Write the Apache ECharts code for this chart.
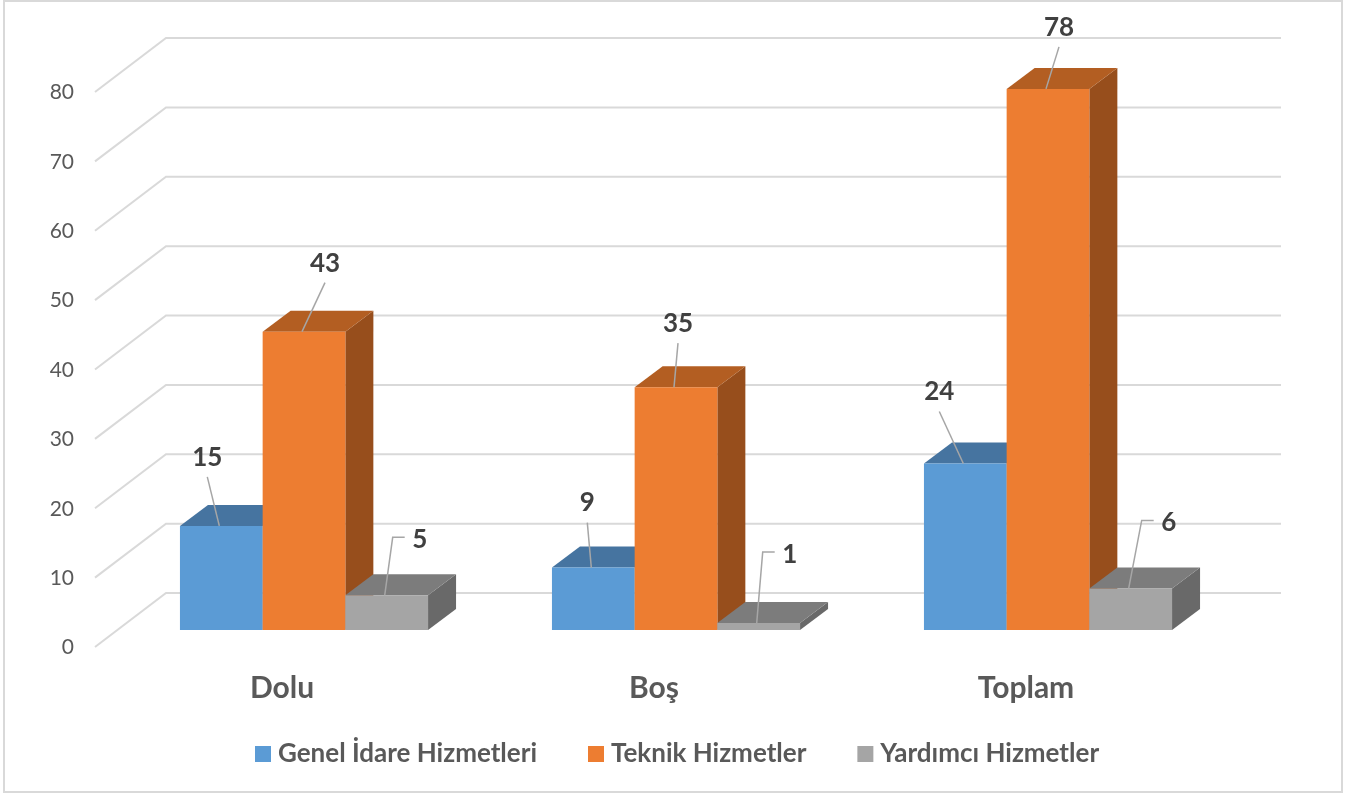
<!DOCTYPE html>
<html>
<head>
<meta charset="utf-8">
<title>Hizmetler</title>
<style>
  html, body { margin: 0; padding: 0; background: #fff; }
  #chart { width: 1359px; height: 794px; }
</style>
<script src="https://cdn.jsdelivr.net/npm/echarts@6/dist/echarts.min.js"></script>
</head>
<body>
<div id="chart"></div>
<script>
const categories = ["Dolu", "Boş", "Toplam"];
const yTicks = [0, 10, 20, 30, 40, 50, 60, 70, 80];
const genelIdare = [15, 9, 24];
const teknik = [43, 35, 78];
const yardimci = [5, 1, 6];

// renk: on yuz, ust yuz, yan yuz
const palette = [
  ["#5b9bd5", "#4674a0", "#41719c"],
  ["#ed7d31", "#b35e22", "#974e1c"],
  ["#a5a5a5", "#7c7c7c", "#696969"],
];
// etiket konumu, cubuk ust ortasina gore (dx, dy)
const labelOffsets = [
  [[-14, -70], [-6, -66], [-26, -73]],
  [[21, -70], [2, -65], [11, -63]],
  [[33, -57], [31, -70], [38, -67]],
];
const FONT = "Lato, 'Open Sans', sans-serif";
const DEPTH_X = 28;
const DEPTH_Y = 21;

function poly(points, fill) {
  return { type: "polygon", shape: { points }, style: { fill } };
}

function barSeries(name, values, idx) {
  return {
    name,
    type: "custom",
    silent: true,
    itemStyle: { color: palette[idx][0] },
    data: values.map((v, i) => [i, v]),
    renderItem: (params, api) => {
      const top = api.coord([api.value(0), api.value(1)]);
      const base = api.coord([api.value(0), 0]);
      const w = api.size([1, 0])[0] * 0.2223;
      const x0 = top[0] + (idx - 1.5) * w;
      const x1 = x0 + w;
      const cx = x0 + w / 2;
      const [front, upper, side] = palette[idx];
      const [dx, dy] = labelOffsets[idx][params.dataIndex];
      const startX = cx - 2;
      // gri serinin cizgisi kirik, digerleri duz
      const line = idx === 2
        ? [[startX, top[1]], [cx + dx - 27, top[1] + dy - 1], [cx + dx - 15, top[1] + dy - 1]]
        : [[startX, top[1]], [cx + dx, top[1] + dy + 21]];
      return {
        type: "group",
        children: [
          poly([[x1, base[1]], [x1 + DEPTH_X, base[1] - DEPTH_Y], [x1 + DEPTH_X, top[1] - DEPTH_Y], [x1, top[1]]], side),
          poly([[x0, top[1]], [x0 + DEPTH_X, top[1] - DEPTH_Y], [x1 + DEPTH_X, top[1] - DEPTH_Y], [x1, top[1]]], upper),
          { type: "rect", shape: { x: x0, y: top[1], width: w, height: base[1] - top[1] }, style: { fill: front } },
          { type: "polyline", shape: { points: line }, style: { stroke: "#a6a6a6", lineWidth: 1.5, fill: "none" } },
          {
            type: "text",
            x: cx + dx,
            y: top[1] + dy + 1.5,
            style: {
              text: String(api.value(1)),
              fill: "#404040",
              fontFamily: FONT,
              fontSize: 26,
              fontWeight: "bold",
              align: "center",
              verticalAlign: "middle",
            },
          },
        ],
      };
    },
  };
}

const myChart = echarts.init(document.getElementById("chart"));

myChart.setOption({
  animation: false,
  backgroundColor: "#fff",
  grid: { left: 118, right: 125, top: 75, bottom: 164, containLabel: false },
  graphic: [
    {
      type: "rect",
      silent: true,
      shape: { x: 4, y: 1, width: 1338, height: 791 },
      style: { fill: "none", stroke: "#d9d9d9", lineWidth: 2 },
    },
  ],
  legend: {
    data: ["Genel İdare Hizmetleri", "Teknik Hizmetler", "Yardımcı Hizmetler"],
    left: 255,
    top: 741,
    padding: 0,
    icon: "rect",
    itemWidth: 16,
    itemHeight: 16,
    itemGap: 51,
    selectedMode: false,
    textStyle: { color: "#595959", fontFamily: FONT, fontSize: 26, fontWeight: "bold", padding: [0, 0, 0, 2] },
  },
  xAxis: {
    type: "category",
    data: categories,
    axisLine: { show: false },
    axisTick: { show: false },
    axisLabel: {
      color: "#595959",
      fontFamily: FONT,
      fontSize: 30,
      fontWeight: "bold",
      margin: 43,
      padding: [0, 44, 0, 0],
    },
  },
  yAxis: {
    type: "value",
    min: 0,
    max: 80,
    interval: 10,
    axisLine: { show: false },
    axisTick: { show: false },
    splitLine: { show: false },
    axisLabel: {
      color: "#595959",
      fontFamily: FONT,
      fontSize: 21,
      margin: 44,
      verticalAlign: "top",
      padding: [7, 0, 0, 0],
    },
  },
  series: [
    {
      // arka duvar ve sol yan cizgileri
      type: "custom",
      silent: true,
      data: yTicks.map((t) => [0, t]),
      renderItem: (params, api) => {
        const y = api.coord([0, api.value(1)])[1] - 37;
        const sys = params.coordSys;
        const back = sys.x + 48;
        return {
          type: "polyline",
          shape: { points: [[back - 71, y + 54], [back, y], [sys.x + sys.width + 47, y]] },
          style: { stroke: "#d9d9d9", lineWidth: 2, fill: "none" },
        };
      },
    },
    barSeries("Genel İdare Hizmetleri", genelIdare, 0),
    barSeries("Teknik Hizmetler", teknik, 1),
    barSeries("Yardımcı Hizmetler", yardimci, 2),
  ],
});
</script>
</body>
</html>
